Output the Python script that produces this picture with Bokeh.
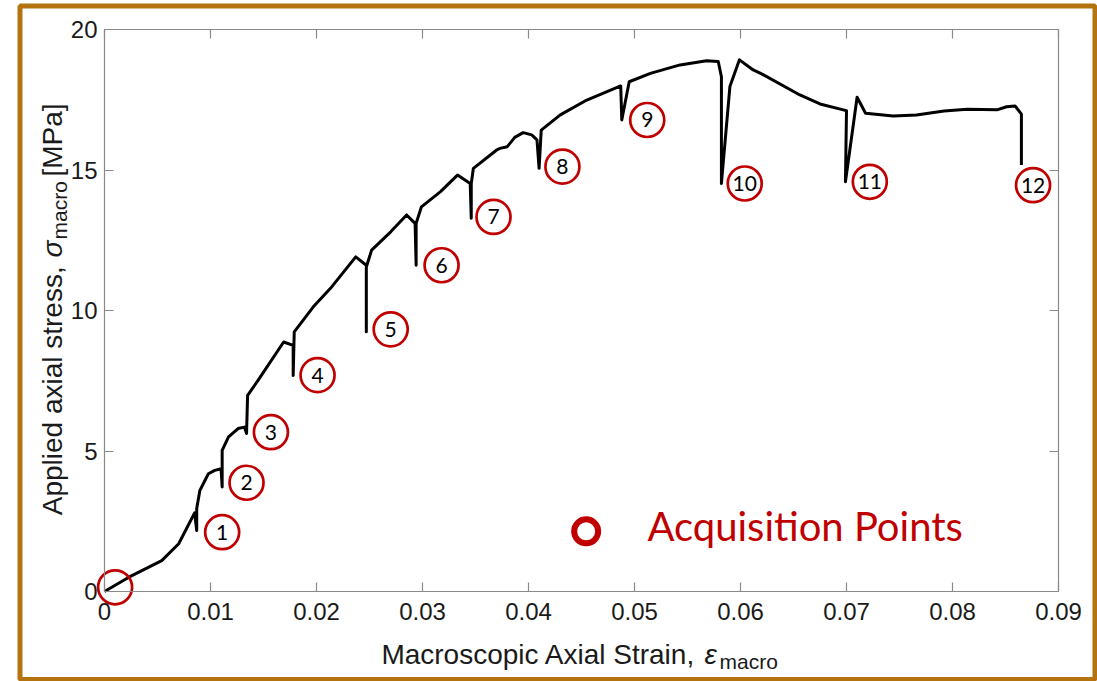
import numpy as np
from bokeh.plotting import figure
from bokeh.models import Range1d, LinearAxis, FixedTicker, Label, BoxAnnotation, CustomJSTickFormatter, ColumnDataSource
from bokeh.embed import file_html
from bokeh.resources import INLINE
from bokeh.core.properties import value

# ---------------- data ----------------
strain = [0.0000, 0.0023, 0.0054, 0.0070, 0.0085, 0.0087, 0.0087, 0.0090, 0.0098, 0.0104,
          0.0110, 0.0111, 0.0111, 0.0117, 0.0126, 0.0132, 0.0134, 0.0135, 0.0145, 0.0169,
          0.0178, 0.0178, 0.0179, 0.0197, 0.0213, 0.0237, 0.0247, 0.0247, 0.0247, 0.0252,
          0.0270, 0.0285, 0.0293, 0.0294, 0.0294, 0.0299, 0.0317, 0.0333, 0.0345, 0.0346,
          0.0346, 0.0348, 0.0370, 0.0373, 0.0380, 0.0387, 0.0395, 0.0403, 0.0408, 0.0410,
          0.0412, 0.0430, 0.0455, 0.0487, 0.0488, 0.0495, 0.0515, 0.0543, 0.0568, 0.0579,
          0.0582, 0.0582, 0.0590, 0.0599, 0.0612, 0.0619, 0.0656, 0.0675, 0.0697, 0.0700,
          0.0699, 0.0710, 0.0718, 0.0744, 0.0766, 0.0792, 0.0814, 0.0842, 0.0851, 0.0859,
          0.0865, 0.0865]
stress = [0.00, 0.51, 1.10, 1.70, 2.80, 2.17, 2.95, 3.60, 4.19, 4.31,
          4.37, 3.72, 5.02, 5.50, 5.80, 5.85, 5.62, 6.98, 7.52, 8.88,
          8.76, 7.69, 9.24, 10.13, 10.78, 11.91, 11.61, 9.24, 11.55, 12.15,
          12.80, 13.40, 13.10, 11.61, 13.10, 13.69, 14.23, 14.82, 14.52, 13.28,
          14.52, 15.06, 15.71, 15.77, 15.83, 16.16, 16.33, 16.25, 16.07, 15.06,
          16.42, 16.96, 17.49, 17.99, 16.78, 18.14, 18.44, 18.74, 18.89, 18.86,
          18.32, 14.52, 17.97, 18.92, 18.56, 18.44, 17.67, 17.35, 17.14, 17.11,
          14.58, 17.59, 17.02, 16.92, 16.96, 17.10, 17.16, 17.14, 17.25, 17.28,
          16.99, 15.18]

acq_strain = [0.0010, 0.0111, 0.0134, 0.0157, 0.0201, 0.0270, 0.0318, 0.0367, 0.0432,
              0.0512, 0.0604, 0.0722, 0.0876]
acq_stress = [0.15, 2.11, 3.87, 5.67, 7.70, 9.33, 11.61, 13.33, 15.12, 16.78, 14.52,
              14.58, 14.46]
acq_labels = ["", "1", "2", "3", "4", "5", "6", "7", "8", "9", "10", "11", "12"]

x_ticks = [0, 0.01, 0.02, 0.03, 0.04, 0.05, 0.06, 0.07, 0.08, 0.09]
x_tick_labels = ["0", "0.01", "0.02", "0.03", "0.04", "0.05", "0.06", "0.07", "0.08", "0.09"]
y_ticks = [0, 5, 10, 15, 20]
y_tick_labels = ["0", "5", "10", "15", "20"]

legend_text = "Acquisition Points"
legend_pos = (0.04544, 2.14)
legend_text_pos = (0.05122, 2.33)

# ---------------- layout ----------------
W, H = 1097, 681
FL, FR, FT, FB = 104, 1058, 29, 591     # axes box in page pixels
XMAX, YMAX = 0.09, 20.0


def X(px):
    return (px - FL) * XMAX / (FR - FL)


def Y(py):
    return (FB - py) * YMAX / (FB - FT)


RED = "#C00000"
BROWN = "#B4730F"
AX = "#8a8a8a"
TXT = "#1a1a1a"

p = figure(width=W, height=H, x_range=Range1d(X(0), X(W)), y_range=Range1d(Y(H), Y(0)),
           output_backend="svg", toolbar_location=None,
           min_border_left=0, min_border_right=0, min_border_top=0, min_border_bottom=0)
p.xgrid.visible = False
p.ygrid.visible = False
p.outline_line_color = None
p.background_fill_color = "white"
p.border_fill_color = "white"

blank = CustomJSTickFormatter(code="return ''")

bottom = p.below[0]
left = p.left[0]
bottom.ticker = FixedTicker(ticks=x_ticks)
bottom.major_label_overrides = {t: s for t, s in zip(x_ticks, x_tick_labels)}
bottom.fixed_location = 0
bottom.bounds = (0, XMAX)
left.ticker = FixedTicker(ticks=y_ticks)
left.major_label_overrides = {t: s for t, s in zip(y_ticks, y_tick_labels)}
left.fixed_location = 0
left.bounds = (0, YMAX)

top = LinearAxis(ticker=FixedTicker(ticks=x_ticks), formatter=blank, fixed_location=YMAX,
                 bounds=(0, XMAX))
right = LinearAxis(ticker=FixedTicker(ticks=y_ticks), formatter=blank, fixed_location=XMAX,
                   bounds=(0, YMAX))
p.add_layout(top, "above")
p.add_layout(right, "right")

for ax in [bottom, left, top, right]:
    ax.axis_line_color = AX
    ax.axis_line_width = 1.2
    ax.major_tick_line_color = AX
    ax.major_tick_line_width = 1.2
    ax.major_tick_in = 9
    ax.major_tick_out = 0
    ax.minor_tick_line_color = None
    ax.major_label_text_font = "Liberation Sans"
    ax.major_label_text_font_size = "24px"
    ax.major_label_text_color = TXT
bottom.major_label_standoff = 11
left.major_label_standoff = 7
top.major_label_text_font_size = "0px"
right.major_label_text_font_size = "0px"

# curve
p.line(strain, stress, line_color="black", line_width=3, line_join="round")

# acquisition points
src = ColumnDataSource(dict(x=acq_strain, y=acq_stress, t=acq_labels))
p.scatter("x", "y", source=src, marker="circle", size=34, fill_color=None,
          line_color=RED, line_width=2.7)
p.text("x", "y", text="t", source=src, text_align="center", text_baseline="middle",
       text_font=value("Lato"), text_font_size="21px", text_color="black")

# legend
p.scatter([legend_pos[0]], [legend_pos[1]], marker="circle", size=24, fill_color=None,
          line_color=RED, line_width=6)
p.add_layout(Label(x=legend_text_pos[0], y=legend_text_pos[1], text=legend_text,
                   text_font="Lato", text_font_size="40px", text_color=RED,
                   text_baseline="alphabetic", text_align="left"))

# axis labels (composed for subscripts)
LF = "Liberation Sans"
xb = 654
p.add_layout(Label(x=X(703), y=Y(xb), text="Macroscopic Axial Strain, ", text_font=LF,
                   text_font_size="28px", text_color=TXT, text_align="right",
                   text_baseline="alphabetic"))
p.add_layout(Label(x=X(704), y=Y(xb), text="ε", text_font=LF, text_font_style="italic",
                   text_font_size="28px", text_color=TXT, text_align="left",
                   text_baseline="alphabetic"))
p.add_layout(Label(x=X(719), y=Y(xb + 7), text="macro", text_font=LF,
                   text_font_size="21px", text_color=TXT, text_align="left",
                   text_baseline="alphabetic"))

yb = 52
ang = np.pi / 2
p.add_layout(Label(x=X(yb), y=Y(258), text="Applied axial stress, ", text_font=LF,
                   text_font_size="28px", text_color=TXT, text_align="right",
                   text_baseline="alphabetic", angle=ang))
p.add_layout(Label(x=X(yb), y=Y(257), text="σ", text_font=LF, text_font_style="italic",
                   text_font_size="28px", text_color=TXT, text_align="left",
                   text_baseline="alphabetic", angle=ang))
p.add_layout(Label(x=X(yb + 7), y=Y(239), text="macro", text_font=LF,
                   text_font_size="21px", text_color=TXT, text_align="left",
                   text_baseline="alphabetic", angle=ang))
p.add_layout(Label(x=X(yb), y=Y(176), text=" [MPa]", text_font=LF,
                   text_font_size="28px", text_color=TXT, text_align="left",
                   text_baseline="alphabetic", angle=ang))

# brown picture frame
p.add_layout(BoxAnnotation(left=X(19.5), right=X(1094.5), top=Y(5.5), bottom=Y(679),
                           fill_alpha=0, line_color=BROWN, line_alpha=1.0, line_width=5,
                           level="overlay"))

open("out.html", "w").write(file_html(p, INLINE))
